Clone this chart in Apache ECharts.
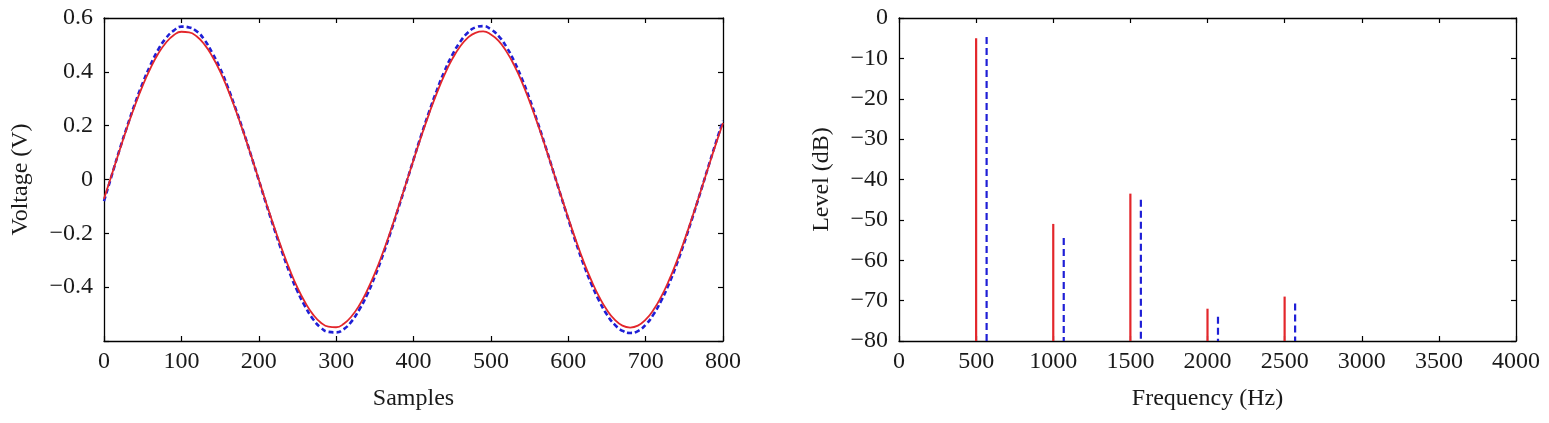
<!DOCTYPE html>
<html>
<head>
<meta charset="utf-8">
<script src="https://cdn.jsdelivr.net/npm/echarts@6/dist/echarts.min.js"></script>
<style>
html,body{margin:0;padding:0;background:#fff;}
#main{width:1549px;height:423px;}
</style>
</head>
<body>
<div id="main"></div>
<script>
// ---- Left panel: time-domain waveforms ----
const sampleIdx = [0,10,20,30,40,50,60,70,80,90,100,110,120,130,140,150,160,170,180,190,200,210,220,230,240,250,260,270,280,290,300,310,320,330,340,350,360,370,380,390,400,410,420,430,440,450,460,470,480,490,500,510,520,530,540,550,560,570,580,590,600,610,620,630,640,650,660,670,680,690,700,710,720,730,740,750,760,770,780,790,800];
const voltageRed = [-0.072,0.018,0.107,0.194,0.275,0.349,0.413,0.467,0.508,0.536,0.549,0.547,0.531,0.501,0.457,0.402,0.335,0.259,0.177,0.090,0.000,-0.090,-0.177,-0.259,-0.335,-0.402,-0.457,-0.501,-0.531,-0.547,-0.549,-0.536,-0.508,-0.467,-0.413,-0.349,-0.275,-0.194,-0.107,-0.018,0.072,0.160,0.243,0.320,0.389,0.447,0.493,0.526,0.545,0.550,0.539,0.515,0.476,0.425,0.363,0.290,0.210,0.125,0.036,-0.054,-0.142,-0.227,-0.306,-0.376,-0.436,-0.485,-0.521,-0.543,-0.550,-0.543,-0.521,-0.485,-0.436,-0.376,-0.306,-0.227,-0.142,-0.054,0.036,0.125,0.210];
const voltageBlue = [-0.080,0.015,0.110,0.198,0.282,0.358,0.425,0.482,0.525,0.553,0.568,0.565,0.550,0.518,0.470,0.413,0.343,0.264,0.180,0.090,-0.002,-0.094,-0.183,-0.268,-0.347,-0.415,-0.472,-0.518,-0.550,-0.566,-0.568,-0.556,-0.527,-0.483,-0.428,-0.361,-0.284,-0.200,-0.111,-0.019,0.074,0.165,0.250,0.330,0.402,0.462,0.510,0.545,0.565,0.570,0.558,0.533,0.493,0.440,0.375,0.300,0.216,0.128,0.036,-0.056,-0.147,-0.235,-0.317,-0.389,-0.451,-0.502,-0.539,-0.562,-0.570,-0.563,-0.540,-0.502,-0.451,-0.389,-0.316,-0.234,-0.146,-0.055,0.038,0.130,0.218];

// ---- Right panel: spectrum stems ----
const freqRed = [500,1000,1500,2000,2500];
const levelRed = [-5,-51,-43.5,-72,-69];
const freqBlue = [568,1068,1568,2068,2568];
const levelBlue = [-4.7,-54.5,-45,-74,-70.7];

const FONT = 'Liberation Serif';
const FS = 24;
const TXT = '#1a1a1a';
const minus = s => String(s).replace('-', '\u2212');

function boxAxes(gridIndex, min, max, interval, fmt, isX, name, nameGap, showLabel) {
  return {
    type: 'value', gridIndex, min, max, interval,
    name: name || '', nameLocation: 'middle', nameGap: nameGap || 0,
    nameTextStyle: {fontFamily: FONT, fontSize: FS, color: TXT},
    axisLine: {show: true, onZero: false, lineStyle: {color: '#000', width: 1.3}},
    axisTick: {show: true, inside: true, length: 5, lineStyle: {color: '#000', width: 1.2}},
    axisLabel: {show: showLabel, formatter: fmt, fontFamily: FONT, fontSize: FS, color: TXT, margin: isX ? 9 : 11, hideOverlap: false},
    splitLine: {show: false}
  };
}

const fmtVolt = v => {
  if (v < -0.59) return '';
  if (Math.abs(v) < 1e-9) return '0';
  return minus(v.toFixed(1));
};
const fmtInt = v => Math.abs(v) < 1e-9 ? '0' : minus(Math.round(v));

function stemSeries(freqs, levels, color, dashed, xi, yi) {
  return {
    type: 'custom', xAxisIndex: xi, yAxisIndex: yi,
    data: freqs.map((f, i) => [f, levels[i]]),
    renderItem: function (params, api) {
      const top = api.coord([api.value(0), api.value(1)]);
      const bot = api.coord([api.value(0), -80]);
      return {
        type: 'line',
        shape: {x1: top[0], y1: top[1], x2: bot[0], y2: bot[1]},
        style: {stroke: color, lineWidth: 2.2, lineDash: dashed ? [7, 4] : null}
      };
    },
    z: 3
  };
}

const chart = echarts.init(document.getElementById('main'), null, {renderer: 'canvas'});
chart.setOption({
  animation: false,
  backgroundColor: '#fff',
  grid: [
    {left: 104, top: 18, width: 619, height: 323},
    {left: 899, top: 18, width: 617, height: 323}
  ],
  xAxis: [
    Object.assign(boxAxes(0, 0, 800, 100, fmtInt, true, 'Samples', 46, true), {position: 'bottom'}),
    Object.assign(boxAxes(0, 0, 800, 100, fmtInt, true, '', 0, false), {position: 'top'}),
    Object.assign(boxAxes(1, 0, 4000, 500, fmtInt, true, 'Frequency (Hz)', 46, true), {position: 'bottom'}),
    Object.assign(boxAxes(1, 0, 4000, 500, fmtInt, true, '', 0, false), {position: 'top'})
  ],
  yAxis: [
    Object.assign(boxAxes(0, -0.6, 0.6, 0.2, fmtVolt, false, 'Voltage (V)', 71, true), {position: 'left'}),
    Object.assign(boxAxes(0, -0.6, 0.6, 0.2, fmtVolt, false, '', 0, false), {position: 'right'}),
    Object.assign(boxAxes(1, -80, 0, 10, fmtInt, false, 'Level (dB)', 65, true), {position: 'left'}),
    Object.assign(boxAxes(1, -80, 0, 10, fmtInt, false, '', 0, false), {position: 'right'})
  ],
  series: [
    {
      type: 'line', xAxisIndex: 0, yAxisIndex: 0, showSymbol: false, smooth: true,
      data: sampleIdx.map((x, i) => [x, voltageBlue[i]]),
      lineStyle: {color: '#1f1fd6', width: 2.6, type: [5, 3]}, z: 2
    },
    {
      type: 'line', xAxisIndex: 0, yAxisIndex: 0, showSymbol: false, smooth: true,
      data: sampleIdx.map((x, i) => [x, voltageRed[i]]),
      lineStyle: {color: '#e3262b', width: 1.8}, z: 3
    },
    stemSeries(freqRed, levelRed, '#e3262b', false, 2, 2),
    stemSeries(freqBlue, levelBlue, '#1f1fd6', true, 2, 2)
  ]
});
</script>
</body>
</html>
